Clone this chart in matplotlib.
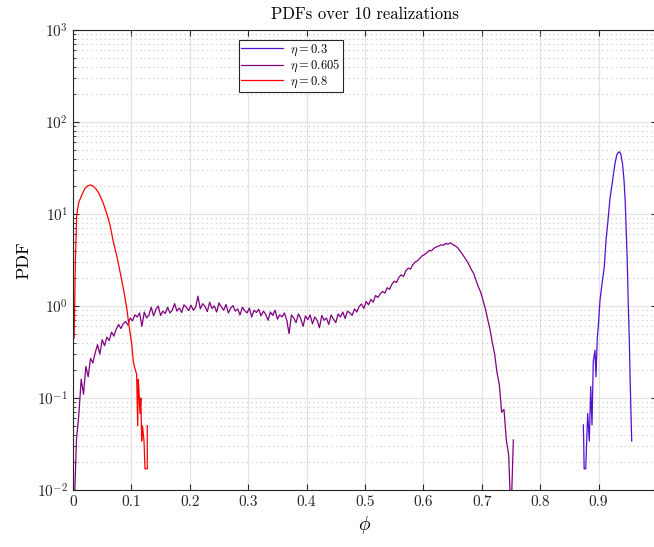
import numpy as np
import matplotlib
matplotlib.use('Agg')
import matplotlib.pyplot as plt
from matplotlib.ticker import LogLocator, FixedLocator, FixedFormatter, NullFormatter

plt.rcParams['font.family'] = 'serif'
plt.rcParams['font.serif'] = ['cmr10', 'DejaVu Serif']
plt.rcParams['mathtext.fontset'] = 'cm'
plt.rcParams['axes.formatter.use_mathtext'] = True

# eta = 0.3
phi_03 = [0.8738, 0.8745, 0.8752, 0.8780, 0.8796, 0.8813, 0.8841, 0.8865, 0.8887, 0.8909,
          0.8938, 0.8955, 0.8978, 0.8995, 0.9024, 0.9063, 0.9098, 0.9127, 0.9156, 0.9195,
          0.9241, 0.9281, 0.9310, 0.9330, 0.9354, 0.9380, 0.9410, 0.9435, 0.9455, 0.9469,
          0.9490, 0.9509, 0.9525, 0.9538, 0.9552, 0.9567]
pdf_03 = [0.051, 0.034, 0.017, 0.017, 0.034, 0.068, 0.034, 0.133, 0.051, 0.25,
          0.33, 0.17, 0.46, 0.60, 1.16, 1.84, 2.67, 5.2, 7.9, 14.8,
          23.4, 35.6, 43.7, 46.0, 47.5, 45.0, 35.0, 23.4, 14.0, 7.9,
          3.2, 0.98, 0.45, 0.18, 0.08, 0.034]

# eta = 0.605, bin centres every 0.004
phi_0605 = np.arange(189) * 0.004 + 0.002
pdf_0605 = [
    0.006, 0.036, 0.066, 0.16, 0.11, 0.22, 0.17, 0.27, 0.24, 0.31,
    0.38, 0.30, 0.43, 0.37, 0.46, 0.42, 0.52, 0.47, 0.56, 0.63,
    0.57, 0.64, 0.68, 0.62, 0.74, 0.69, 0.80, 0.76, 0.84, 0.60,
    0.86, 0.74, 0.80, 0.97, 0.78, 0.92, 1.00, 0.79, 0.88, 0.83,
    0.97, 0.84, 0.90, 1.06, 0.88, 0.95, 0.85, 1.03, 0.97, 0.89,
    1.02, 0.90, 0.97, 1.28, 0.93, 1.06, 0.99, 0.87, 1.10, 0.94,
    1.00, 0.86, 1.08, 0.98, 0.90, 1.04, 0.84, 0.95, 1.01, 0.88,
    0.93, 0.80, 0.97, 0.89, 0.84, 0.95, 0.76, 0.90, 0.85, 0.92,
    0.78, 0.88, 0.81, 0.70, 0.86, 0.79, 0.90, 0.72, 0.80, 0.76,
    0.84, 0.70, 0.50, 0.80, 0.74, 0.66, 0.82, 0.73, 0.60, 0.78,
    0.71, 0.80, 0.64, 0.76, 0.70, 0.58, 0.79, 0.70, 0.74, 0.63,
    0.80, 0.72, 0.66, 0.82, 0.76, 0.86, 0.73, 0.88, 0.84, 0.79,
    0.93, 0.86, 0.99, 1.05, 0.94, 1.12, 1.03, 1.18, 1.10, 1.30,
    1.24, 1.35, 1.44, 1.38, 1.58, 1.52, 1.72, 1.86, 1.80, 2.05,
    2.18, 2.10, 2.42, 2.58, 2.52, 2.82, 3.02, 3.10, 3.30, 3.52,
    3.62, 3.80, 4.02, 3.98, 4.25, 4.38, 4.48, 4.62, 4.58, 4.78,
    4.70, 4.86, 4.68, 4.52, 4.35, 4.02, 3.72, 3.40, 3.12, 2.82,
    2.50, 2.26, 1.92, 1.62, 1.42, 1.15, 0.94, 0.72, 0.56, 0.40,
    0.30, 0.19, 0.14, 0.07, 0.075, 0.035, 0.024, 0.005, 0.035,
]

# eta = 0.8
phi_08 = [0.002, 0.004, 0.0063, 0.010, 0.015, 0.0205, 0.025, 0.0303, 0.035, 0.040,
          0.045, 0.052, 0.058, 0.0634, 0.069, 0.075, 0.0805, 0.0861, 0.092, 0.0964,
          0.1005, 0.1033, 0.105, 0.107, 0.109, 0.1108, 0.1118, 0.113, 0.1147, 0.1162,
          0.1176, 0.119, 0.1216, 0.1233, 0.1255, 0.1272, 0.1272]
pdf_08 = [0.45, 3.0, 9.7, 13.5, 16.0, 19.0, 20.2, 20.7, 20.0, 18.5,
          16.5, 13.0, 10.0, 7.6, 5.0, 3.5, 2.36, 1.57, 0.95, 0.58,
          0.39, 0.25, 0.22, 0.20, 0.18, 0.05, 0.16, 0.12, 0.068, 0.10,
          0.034, 0.05, 0.034, 0.017, 0.017, 0.017, 0.05]

x_ticks = [0, 0.1, 0.2, 0.3, 0.4, 0.5, 0.6, 0.7, 0.8, 0.9]
x_tick_labels = ['0', '0.1', '0.2', '0.3', '0.4', '0.5', '0.6', '0.7', '0.8', '0.9']

fig = plt.figure(figsize=(6.54, 5.47), dpi=100)
ax = fig.add_axes([73 / 654, 1 - 490 / 547, 584 / 654, 460 / 547])

ax.plot(phi_03, pdf_03, color='#5010d0', lw=0.9, label=r'$\eta = 0.3$')
ax.plot(phi_0605, pdf_0605, color='#800080', lw=0.9, label=r'$\eta = 0.605$')
ax.plot(phi_08, pdf_08, color='#ff0000', lw=0.9, label=r'$\eta = 0.8$')

ax.set_yscale('log')
ax.set_ylim(1e-2, 1e3)
ax.set_xlim(0, 1)
ax.xaxis.set_major_locator(FixedLocator(x_ticks))
ax.xaxis.set_major_formatter(FixedFormatter(x_tick_labels))
ax.yaxis.set_major_locator(LogLocator(base=10, numticks=10))
ax.yaxis.set_minor_locator(LogLocator(base=10, subs=np.arange(2, 10), numticks=20))
ax.yaxis.set_minor_formatter(NullFormatter())

ax.grid(True, which='major', color='#e3e3e3', lw=0.9, ls='-')
ax.grid(True, which='minor', axis='y', color='#c8c8c8', lw=0.8, ls=(0, (1, 3)))
ax.set_axisbelow(True)

for s in ax.spines.values():
    s.set_color('#262626')
    s.set_linewidth(0.8)
ax.tick_params(which='both', direction='in', top=True, right=True, colors='#262626',
               labelsize=11)
ax.tick_params(which='major', length=4)
ax.tick_params(which='minor', length=2.5)

ax.set_title('PDFs over 10 realizations', fontsize=12, pad=8)
ax.set_xlabel(r'$\phi$', fontsize=14)
ax.set_ylabel('PDF', fontsize=13)

leg = ax.legend(loc='upper left', bbox_to_anchor=(0.284, 0.978), borderaxespad=0,
                fontsize=9, fancybox=False, framealpha=1, edgecolor='#262626',
                handlelength=3.3, borderpad=0.2, labelspacing=0.0, handletextpad=0.6)
leg.get_frame().set_linewidth(0.8)

fig.savefig('out.png', dpi=100)
